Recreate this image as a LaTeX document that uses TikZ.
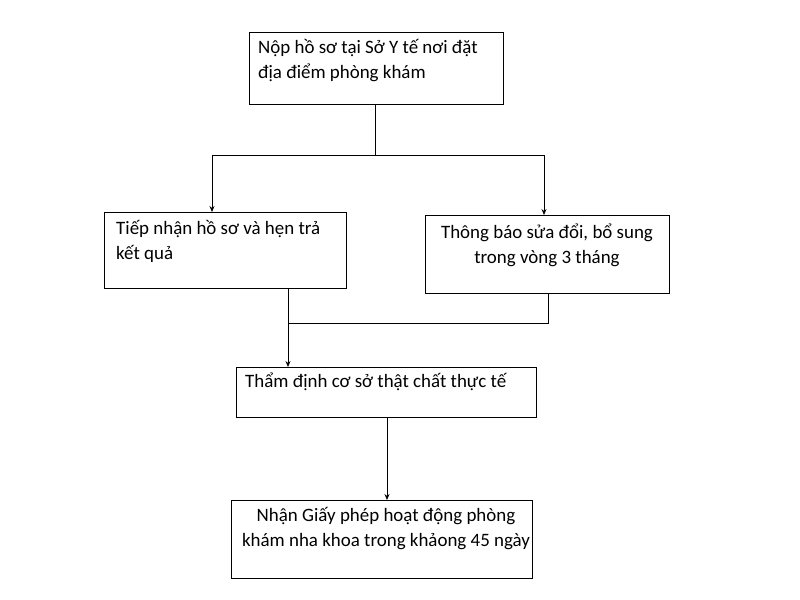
\documentclass[tikz,border=0pt]{standalone}
\usepackage{fontspec}
\setmainfont{Carlito}
\usetikzlibrary{arrows.meta}
\begin{document}
\begin{tikzpicture}[x=1bp,y=-1bp,
  box/.style={draw,line width=0.8pt,inner sep=0pt},
  txt/.style={font=\fontsize{19}{25}\selectfont,inner sep=0pt},
  conn/.style={line width=0.7pt},
  arr/.style={conn,-{Stealth[length=6pt,width=5pt]}}]
\useasboundingbox[fill=white] (0,0) rectangle (800,600);
\node[box,minimum width=254bp,minimum height=72bp,anchor=north west] (a) at (249,32) {};
\node[txt,anchor=north west,align=left] (at) at (258,39) {Nộp hồ sơ tại Sở Y tế nơi đặt\\địa điểm phòng khám};
\node[box,minimum width=242bp,minimum height=76bp,anchor=north west] (b) at (104,212) {};
\node[txt,anchor=north west,align=left] (bt) at (116,220) {Tiếp nhận hồ sơ và hẹn trả\\kết quả};
\node[box,minimum width=244bp,minimum height=78bp,anchor=north west] (c) at (425,215) {};
\node[txt,anchor=north,align=center] (ct) at (547,224) {Thông báo sửa đổi, bổ sung\\trong vòng 3 tháng};
\node[box,minimum width=300bp,minimum height=50bp,anchor=north west] (d) at (236,367) {};
\node[txt,anchor=north west] (dt) at (245,373) {Thẩm định cơ sở thật chất thực tế};
\node[box,minimum width=301bp,minimum height=78bp,anchor=north west] (e) at (231,500) {};
\node[txt,anchor=north,align=center] (et) at (386,507) {Nhận Giấy phép hoạt động phòng\\khám nha khoa trong khảong 45 ngày};
\coordinate (s) at (375,155);
\coordinate (sl) at (212,155);
\coordinate (sr) at (544,155);
\coordinate (m) at (548,323);
\coordinate (ml) at (288,323);
\draw[conn] (a.south -| s) -- (s);
\draw[conn] (sl) -- (sr);
\draw[arr] (sl) -- (sl |- b.north);
\draw[arr] (sr) -- (sr |- c.north);
\draw[conn] (m |- c.south) -- (m) -- (ml);
\draw[arr] (ml |- b.south) -- (ml |- d.north);
\draw[arr] (387,417) coordinate (dd) -- (dd |- e.north);
\end{tikzpicture}
\end{document}
